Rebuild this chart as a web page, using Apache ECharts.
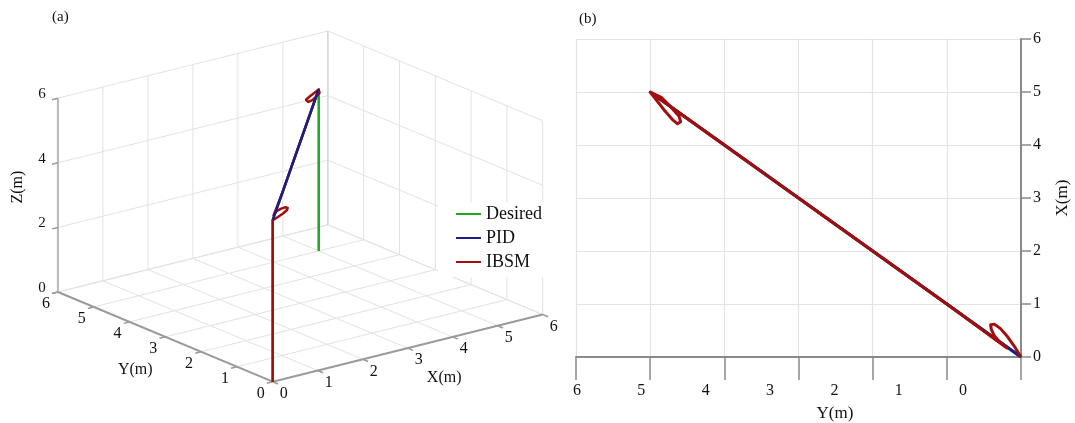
<!DOCTYPE html>
<html>
<head>
<meta charset="utf-8">
<script src="https://cdn.jsdelivr.net/npm/echarts@6/dist/echarts.min.js"></script>
<style>
html, body { margin: 0; background: #fff; }
#chart { width: 1075px; height: 423px; }
</style>
</head>
<body>
<div id="chart"></div>
<script>
var serif = 'Liberation Serif';

// tick values (metres)
var xyTicks = [0, 1, 2, 3, 4, 5, 6];
var zTicks = [0, 2, 4, 6];
var bLabels = [0, 1, 2, 3, 4, 5, 6];

// horizontal tracks: Y and X in metres
var desiredY = [0, 5];
var desiredX = [0, 5];
var pidY = [0, 5];
var pidX = [0, 5];
var ibsmY = [0, 0.08, 0.18, 0.28, 0.36, 0.41, 0.40, 0.36, 0.28, 0.19, 1, 2, 3, 4, 4.6, 4.85, 5,
	4.9, 4.8, 4.7, 4.63, 4.59, 4.61, 4.71, 4.85, 5];
var ibsmX = [0, 0.18, 0.38, 0.54, 0.62, 0.61, 0.52, 0.40, 0.27, 0.17, 1, 2, 3, 4, 4.6, 4.85, 5,
	4.82, 4.64, 4.48, 4.40, 4.44, 4.54, 4.70, 4.9, 5];

// 3d paths for panel (a)
var cruiseZ = 5;
var desired3dX = [0, 0, 5, 5];
var desired3dY = [0, 0, 5, 5];
var desired3dZ = [0, 5, 5, 0];
var pid3dX = [0, 5];
var pid3dY = [0, 5];
var pid3dZ = [5, 5];
var climbZ = [0, 5];

var green = '#1fa51f', blue = '#1d1d8a', red = '#a30d0d';

// oblique view used for panel (a)
var P0 = [272.7, 381.7];
var EX = [45, -11.2];
var EY = [-35.8, -14.95];
var EZ = [0, -32.3];

function project(x, y, z) {
	return [P0[0] + x * EX[0] + y * EY[0] + z * EZ[0],
		P0[1] + x * EX[1] + y * EY[1] + z * EZ[1]];
}

function path3d(xs, ys, zs) {
	return xs.map(function(v, i) { return project(v, ys[i], zs[i]); });
}

var ibsm3d = climbZ.map(function(z) { return project(0, 0, z); })
	.concat(ibsmX.map(function(x, i) { return project(x, ibsmY[i], cruiseZ); }));

function renderBox(params, api) {
	var ch = [];
	var hi = xyTicks[xyTicks.length - 1];
	var top = zTicks[zTicks.length - 1];
	function seg(a, b, color, w) {
		var p = api.coord(project(a[0], a[1], a[2]));
		var q = api.coord(project(b[0], b[1], b[2]));
		ch.push({ type: 'line', shape: { x1: p[0], y1: p[1], x2: q[0], y2: q[1] },
			style: { stroke: color, lineWidth: w } });
	}
	function text(a, dx, dy, s, size, rot) {
		var p = api.coord(project(a[0], a[1], a[2]));
		ch.push({ type: 'text', x: p[0] + dx, y: p[1] + dy, rotation: rot || 0,
			style: { text: s, fontFamily: serif, fontSize: size, fill: '#111',
				align: 'center', verticalAlign: 'middle' } });
	}
	var g = '#e2e2e2';
	xyTicks.forEach(function(t) {
		seg([t, 0, 0], [t, hi, 0], g, 1);
		seg([0, t, 0], [hi, t, 0], g, 1);
		seg([t, hi, 0], [t, hi, top], g, 1);
		seg([hi, t, 0], [hi, t, top], g, 1);
	});
	zTicks.forEach(function(z) {
		seg([0, hi, z], [hi, hi, z], g, 1);
		seg([hi, 0, z], [hi, hi, z], g, 1);
	});
	seg([hi, hi, 0], [hi, hi, top], '#d0d0d0', 1);
	// axes
	seg([0, 0, 0], [hi, 0, 0], '#9a9a9a', 2);
	seg([0, 0, 0], [0, hi, 0], '#9a9a9a', 2);
	seg([0, hi, 0], [0, hi, top], '#b8b8b8', 2);
	xyTicks.forEach(function(t) {
		seg([t, 0, 0], [t, -0.15, 0], '#9a9a9a', 1.5);
		seg([0, t, 0], [-0.13, t, 0], '#9a9a9a', 1.5);
		text([t, 0, 0], 11, 12, String(t), 16);
		text([0, t, 0], -12, 12, String(t), 16);
	});
	zTicks.forEach(function(z) {
		seg([0, hi, z], [-0.13, hi, z], '#9a9a9a', 1.5);
		text([0, hi, z], -16, -4, String(z), 15);
	});
	text([0, 3, 0], -30, 33, 'Y(m)', 16);
	text([3.5, 0, 0], 14, 35, 'X(m)', 16);
	text([0, hi, 3], -40, -8, 'Z(m)', 16, Math.PI / 2);
	return { type: 'group', children: ch };
}

function lineSeries(name, color, width, data, gi) {
	return {
		name: name, type: 'line', xAxisIndex: gi, yAxisIndex: gi,
		data: data, showSymbol: false, symbol: 'none', silent: true,
		lineStyle: { color: color, width: width, join: 'round' }, itemStyle: { color: color },
		emphasis: { disabled: true }, clip: false
	};
}

function zip(a, b) {
	return a.map(function(v, i) { return [v, b[i]]; });
}

var axisGray = '#8a8a8a';
var splitGray = '#e3e3e3';

var chart = echarts.init(document.getElementById('chart'));
chart.setOption({
	animation: false,
	backgroundColor: '#fff',
	title: [
		{ text: '(a)', left: 52, top: 10, padding: 0,
			textStyle: { fontFamily: serif, fontSize: 15, fontWeight: 'normal', color: '#111' } },
		{ text: '(b)', left: 579, top: 12, padding: 0,
			textStyle: { fontFamily: serif, fontSize: 15, fontWeight: 'normal', color: '#111' } }
	],
	legend: {
		data: ['Desired', 'PID', 'IBSM'],
		orient: 'vertical', left: 438, top: 202,
		padding: [3, 8, 6, 18], itemGap: 6,
		itemWidth: 25, itemHeight: 2, icon: 'rect',
		backgroundColor: '#fff',
		textStyle: { fontFamily: serif, fontSize: 18, color: '#111' }
	},
	grid: [
		{ left: 0, top: 0, width: 560, height: 423, outerBoundsMode: 'none' },
		{ left: 576, right: 54, top: 39, bottom: 66, outerBoundsMode: 'none' }
	],
	xAxis: [
		{ gridIndex: 0, type: 'value', min: 0, max: 560, show: false },
		{
			gridIndex: 1, type: 'value', min: 0, max: 6, interval: 1, inverse: true, position: 'bottom',
			axisLine: { show: true, onZero: false, lineStyle: { color: axisGray, width: 2 } },
			axisTick: { show: true, length: 23, lineStyle: { color: axisGray, width: 1.5 } },
			axisLabel: { show: false },
			splitLine: { show: true, lineStyle: { color: splitGray, width: 1.2 } }
		},
		{
			gridIndex: 1, type: 'value', min: -0.9, max: 6.016, inverse: true, position: 'bottom',
			axisLine: { show: false }, axisTick: { show: false }, splitLine: { show: false },
			axisLabel: { customValues: bLabels, margin: 26, fontFamily: serif, fontSize: 16, color: '#111' },
			name: 'Y(m)', nameLocation: 'middle', nameGap: 48,
			nameTextStyle: { fontFamily: serif, fontSize: 17, color: '#111', padding: [0, 0, 0, 73] }
		}
	],
	yAxis: [
		{ gridIndex: 0, type: 'value', min: 0, max: 423, inverse: true, show: false },
		{
			gridIndex: 1, type: 'value', min: 0, max: 6, interval: 1, position: 'right',
			axisLine: { show: true, onZero: false, lineStyle: { color: axisGray, width: 2 } },
			axisTick: { show: true, length: 10, lineStyle: { color: axisGray, width: 1.5 } },
			axisLabel: { margin: 12, fontFamily: serif, fontSize: 16, color: '#111' },
			splitLine: { show: true, lineStyle: { color: splitGray, width: 1.2 } },
			name: 'X(m)', nameLocation: 'middle', nameRotate: 90, nameGap: 33,
			nameTextStyle: { fontFamily: serif, fontSize: 17, color: '#111' }
		}
	],
	series: [
		{
			type: 'custom', xAxisIndex: 0, yAxisIndex: 0, silent: true,
			data: [[0, 0]], renderItem: renderBox, z: 1
		},
		lineSeries('Desired', green, 2.5, path3d(desired3dX, desired3dY, desired3dZ), 0),
		lineSeries('IBSM', red, 2.5, ibsm3d, 0),
		lineSeries('PID', blue, 2.5, path3d(pid3dX, pid3dY, pid3dZ), 0),
		lineSeries('Desired', green, 3, zip(desiredY, desiredX), 1),
		lineSeries('PID', blue, 3, zip(pidY, pidX), 1),
		lineSeries('IBSM', red, 3, zip(ibsmY, ibsmX), 1)
	]
});
</script>
</body>
</html>
